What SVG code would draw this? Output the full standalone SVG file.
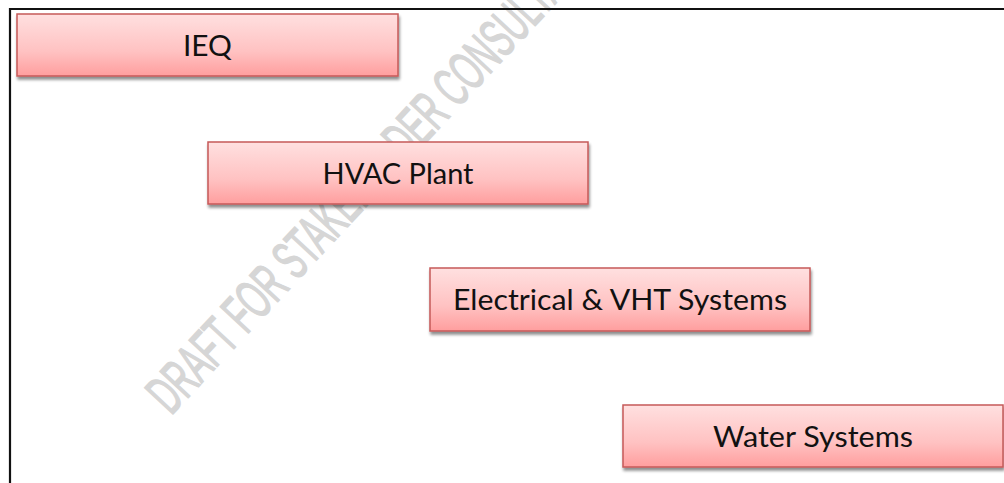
<svg xmlns="http://www.w3.org/2000/svg" width="1004" height="483" viewBox="0 0 1004 483">
  <style>
    .box { fill: url(#pink); stroke: #C65A58; stroke-width: 1.5; filter: url(#shadow); }
    .label { font-family: Lato, "Open Sans", "Liberation Sans", sans-serif; font-size: 29px; fill: #111; text-anchor: middle; }
    .wm { font-family: "Liberation Sans", Arial, sans-serif; font-size: 56px; fill: #D6D6D6; stroke: #D6D6D6; stroke-width: 1.6; }
  </style>
  <defs>
    <linearGradient id="pink" x1="0" y1="0" x2="0" y2="1">
      <stop offset="0" stop-color="#FFE0E0"/>
      <stop offset="0.6" stop-color="#FFC2C2"/>
      <stop offset="1" stop-color="#FF9E9E"/>
    </linearGradient>
    <filter id="shadow" x="-5%" y="-10%" width="112%" height="130%">
      <feGaussianBlur in="SourceAlpha" stdDeviation="1.5"/>
      <feOffset dx="1" dy="3" result="b"/>
      <feComponentTransfer><feFuncA type="linear" slope="0.45"/></feComponentTransfer>
      <feMerge><feMergeNode/><feMergeNode in="SourceGraphic"/></feMerge>
    </filter>
  </defs>
  <rect width="1004" height="483" fill="#FFFFFF"/>
  <g id="watermark">
    <text class="wm" transform="translate(171,416) rotate(-47) scale(0.55,1)">DRAFT FOR STAKEHOLDER CONSULTATION</text>
  </g>
  <g id="frame">
    <path d="M10,483 V9 H1004" fill="none" stroke="#111" stroke-width="2.2"/>
  </g>
  <g id="connectors"></g>
  <g id="node-ieq">
    <rect class="box" x="17" y="14" width="381" height="62"/>
    <text class="label" x="207.5" y="55.5" textLength="49" lengthAdjust="spacingAndGlyphs">IEQ</text>
  </g>
  <g id="node-hvac">
    <rect class="box" x="208" y="142" width="380" height="62"/>
    <text class="label" x="398" y="183.5" textLength="151" lengthAdjust="spacingAndGlyphs">HVAC Plant</text>
  </g>
  <g id="node-electrical">
    <rect class="box" x="430" y="268" width="380" height="63"/>
    <text class="label" x="620" y="310" textLength="334" lengthAdjust="spacingAndGlyphs">Electrical &amp; VHT Systems</text>
  </g>
  <g id="node-water">
    <rect class="box" x="623" y="405" width="380" height="62"/>
    <text class="label" x="813" y="446.5" textLength="200" lengthAdjust="spacingAndGlyphs">Water Systems</text>
  </g>
</svg>
